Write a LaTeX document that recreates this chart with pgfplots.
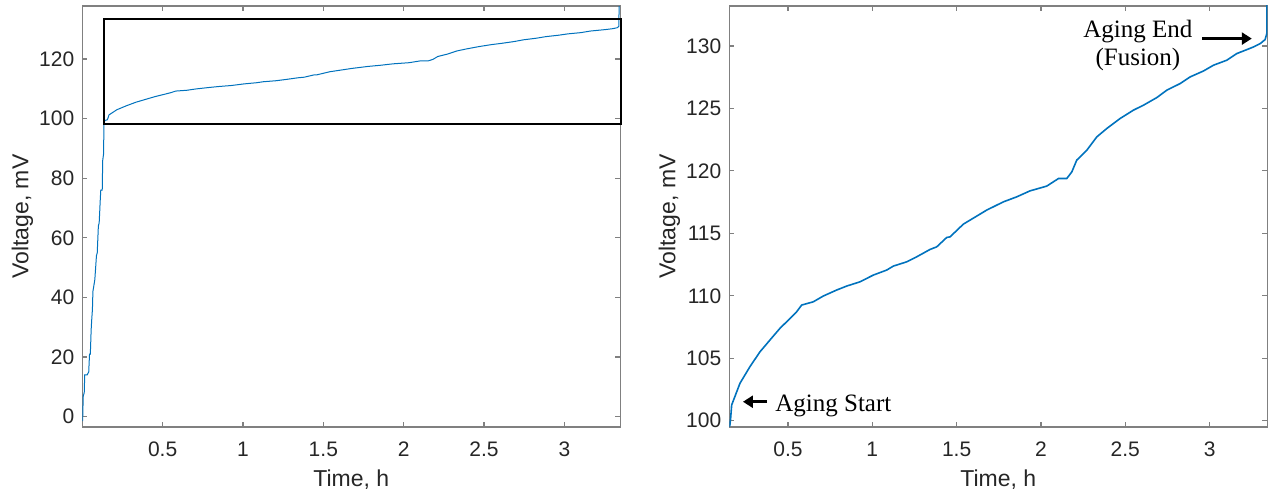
\documentclass[border=0pt]{standalone}
\usepackage{fontspec}
\setmainfont{Liberation Sans}
\newfontfamily\tnr{Liberation Serif}
\usepackage{pgfplots}
\pgfplotsset{compat=1.18}
\usepackage{pgfplotstable}
\usetikzlibrary{arrows.meta}
\definecolor{mblue}{RGB}{0,114,189}
\definecolor{axgray}{RGB}{38,38,38}

\pgfplotstableread{
t V
0.002 -1.5
0.004 3
0.006 7
0.012 8
0.015 14
0.030 14
0.040 15
0.045 21
0.050 21
0.055 29
0.058 32
0.063 36
0.066 42
0.075 45
0.078 46
0.088 54
0.093 55
0.100 64
0.105 65
0.112 73
0.115 76
0.124 76
0.127 86
0.132 88
0.135 98
0.140 99.4
0.155 99.6
0.160 100.2
0.166 101.26
0.215 102.99
0.274 104.32
0.334 105.52
0.393 106.46
0.452 107.39
0.512 108.19
0.551 108.72
0.581 109.26
0.650 109.52
0.709 109.98
0.788 110.46
0.848 110.78
0.927 111.12
1.006 111.66
1.085 112.06
1.125 112.38
1.204 112.72
1.263 113.12
1.342 113.71
1.382 113.92
1.441 114.67
1.461 114.72
1.540 115.74
1.619 116.38
1.678 116.86
1.777 117.52
1.856 117.92
1.935 118.40
2.034 118.78
2.104 119.39
2.153 119.39
2.183 119.92
2.212 120.86
2.272 121.66
2.331 122.72
2.390 123.39
2.469 124.19
2.548 124.86
2.608 125.26
2.687 125.87
2.746 126.46
2.825 126.99
2.884 127.52
2.964 128.00
3.023 128.46
3.102 128.86
3.161 129.39
3.221 129.71
3.260 129.92
3.300 130.19
3.329 130.51
3.339 130.99
3.341 140
}\data

\pgfplotsset{mstyle/.style={
  scale only axis, width=269pt, height=210.5pt, anchor=south west,
  axis line style={black!50, line width=0.6pt},
  tick align=inside, xtick pos=both, ytick pos=both,
  major tick length=2.5pt, tick style={black!50, line width=0.6pt},
  ticklabel style={font=\fontsize{10.5}{12}\selectfont, text=axgray},
  /pgf/number format/assume math mode=true,
  xticklabel shift=3.8pt, yticklabel shift=0.5pt,
  label style={font=\fontsize{11.5}{13}\selectfont, text=axgray},
  xlabel style={at={(axis description cs:0.5,-0.1418)}, anchor=base},
  ylabel style={at={(axis description cs:-0.1115,0.5)}, anchor=center},
  xlabel={Time, h}, ylabel={Voltage, mV},
  xtick={0.5,1,...,3},
  scaled ticks=false,
  clip mode=individual,
}}

\begin{document}
\begin{tikzpicture}
\useasboundingbox (0,0) rectangle (635pt,246.5pt);
\begin{axis}[mstyle, at={(41.15pt,33pt)},
  xmin=0, xmax=3.348, ymin=-3.46, ymax=137.8,
  ytick={0,20,...,120}]
\addplot[mblue, line width=0.5pt] table[x=t,y=V] {\data};
\draw[black, line width=1pt] (axis cs:0.137,98.2) rectangle (axis cs:3.354,133.5);
\end{axis}
\begin{axis}[mstyle, at={(364.65pt,33pt)},
  xmin=0.152, xmax=3.342, ymin=99.5, ymax=133.2,
  ytick={100,105,...,130}]
\addplot[mblue, line width=0.8pt] table[x=t,y=V] {\data};
\draw[-{Triangle[length=5pt,width=6pt]}, line width=1.6pt] (axis cs:0.376,101.52) -- (axis cs:0.233,101.52);
\node[anchor=base west, inner sep=0pt, font=\tnr\fontsize{12.5}{14}\selectfont] at (axis cs:0.423,100.72) {Aging Start};
\draw[-{Triangle[length=5pt,width=6pt]}, line width=1.6pt] (axis cs:2.957,130.59) -- (axis cs:3.250,130.59);
\node[anchor=base, inner sep=0pt, font=\tnr\fontsize{12.5}{14}\selectfont] at (axis cs:2.575,130.67) {Aging End};
\node[anchor=base, inner sep=0pt, font=\tnr\fontsize{12.5}{14}\selectfont] at (axis cs:2.575,128.46) {(Fusion)};
\end{axis}
\end{tikzpicture}
\end{document}
